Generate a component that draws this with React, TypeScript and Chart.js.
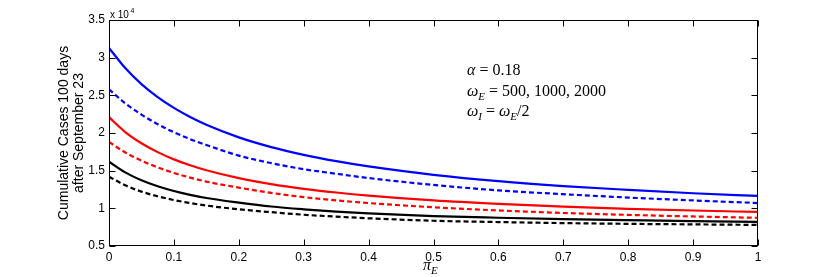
import React, { useEffect, useRef } from 'react';
import { Chart, registerables } from 'chart.js';

Chart.register(...registerables);

// pi_E values (x axis)
const piE = [0, 0.025, 0.05, 0.075, 0.1, 0.125, 0.15, 0.2, 0.25, 0.3, 0.35, 0.4, 0.5, 0.6, 0.7, 0.8, 0.9, 1.0];
// Cumulative cases (x 10^4)
const blueSolid = [3.13, 2.862, 2.649, 2.476, 2.333, 2.212, 2.109, 1.942, 1.813, 1.71, 1.626, 1.556, 1.445, 1.36, 1.295, 1.245, 1.2, 1.165];
const blueDashed = [2.58, 2.394, 2.243, 2.117, 2.01, 1.919, 1.841, 1.70, 1.60, 1.52, 1.459, 1.402, 1.311, 1.238, 1.188, 1.143, 1.105, 1.07];
const redSolid = [2.21, 2.013, 1.864, 1.746, 1.65, 1.571, 1.505, 1.401, 1.321, 1.259, 1.21, 1.169, 1.105, 1.059, 1.023, 0.994, 0.971, 0.952];
const redDashed = [1.88, 1.742, 1.633, 1.544, 1.47, 1.408, 1.355, 1.275, 1.205, 1.149, 1.106, 1.07, 1.014, 0.972, 0.939, 0.913, 0.892, 0.874];
const blackSolid = [1.62, 1.477, 1.373, 1.293, 1.23, 1.179, 1.137, 1.076, 1.024, 0.987, 0.957, 0.933, 0.897, 0.875, 0.857, 0.843, 0.831, 0.82];
const blackDashed = [1.42, 1.306, 1.222, 1.16, 1.11, 1.07, 1.037, 0.987, 0.949, 0.915, 0.89, 0.868, 0.835, 0.818, 0.804, 0.794, 0.787, 0.78];

const xTickLabels = ['0', '0.1', '0.2', '0.3', '0.4', '0.5', '0.6', '0.7', '0.8', '0.9', '1'];
const yTickLabels = ['0.5', '1', '1.5', '2', '2.5', '3', '3.5'];
const yTitle = ['Cumulative Cases 100 days', 'after September 23'];

const toPts = (ys: number[]) => ys.map((y, i) => ({ x: piE[i], y }));

type Seg = { t: string; it?: boolean; sub?: boolean };

const SERIF = '"Liberation Serif", "DejaVu Serif", serif';
const SANS = '"Liberation Sans", Arial, sans-serif';

function drawSegs(ctx: CanvasRenderingContext2D, segs: Seg[], x: number, y: number, size: number) {
  let cx = x;
  for (const s of segs) {
    const fs = s.sub ? Math.round(size * 0.7) : size;
    ctx.font = `${s.it ? 'italic ' : ''}${fs}px ${SERIF}`;
    ctx.fillText(s.t, cx, s.sub ? y + size * 0.25 : y);
    cx += ctx.measureText(s.t).width;
  }
}

const extrasPlugin = {
  id: 'extras',
  afterDraw(chart: any) {
    const ctx: CanvasRenderingContext2D = chart.ctx;
    const a = chart.chartArea;
    const xs = chart.scales.x;
    const ys = chart.scales.y;
    ctx.save();
    ctx.strokeStyle = '#000';
    ctx.lineWidth = 1;
    const L = Math.round(a.left) + 0.5;
    const R = Math.round(a.right) - 0.5;
    const T = Math.round(a.top) + 0.5;
    const B = Math.round(a.bottom) - 0.5;
    ctx.strokeRect(L, T, R - L, B - T);
    const tl = 6;
    ctx.beginPath();
    xs.ticks.forEach((t: any) => {
      const px = Math.round(xs.getPixelForValue(t.value)) + 0.5;
      ctx.moveTo(px, B); ctx.lineTo(px, B - tl);
      ctx.moveTo(px, T); ctx.lineTo(px, T + tl);
    });
    ys.ticks.forEach((t: any) => {
      const py = Math.round(ys.getPixelForValue(t.value)) + 0.5;
      ctx.moveTo(L, py); ctx.lineTo(L + tl, py);
      ctx.moveTo(R, py); ctx.lineTo(R - tl, py);
    });
    ctx.stroke();

    ctx.fillStyle = '#000';
    ctx.textBaseline = 'alphabetic';
    ctx.textAlign = 'left';
    // exponent label
    ctx.font = `10px ${SANS}`;
    ctx.fillText('x 10', a.left + 1, 17.5);
    const w = ctx.measureText('x 10').width;
    ctx.font = `7px ${SANS}`;
    ctx.fillText('4', a.left + 2.5 + w, 12.5);

    // x axis label pi_E
    drawSegs(ctx, [{ t: 'π', it: true }, { t: 'E', it: true, sub: true }], 423, 270, 16);

    // annotation
    drawSegs(ctx, [{ t: 'α', it: true }, { t: ' = 0.18' }], 467, 75, 16);
    drawSegs(ctx, [{ t: 'ω', it: true }, { t: 'E', it: true, sub: true }, { t: ' = 500, 1000, 2000' }], 467, 95.5, 16);
    drawSegs(ctx, [{ t: 'ω', it: true }, { t: 'I', it: true, sub: true }, { t: ' = ' }, { t: 'ω', it: true }, { t: 'E', it: true, sub: true }, { t: '/2' }], 467, 115.5, 16);
    ctx.restore();
  },
};

export default function App() {
  const ref = useRef<HTMLCanvasElement | null>(null);
  useEffect(() => {
    document.body.style.margin = '0';
    const canvas = ref.current;
    if (!canvas) return;
    const mk = (label: string, data: number[], color: string, dashed: boolean) => ({
      label,
      data: toPts(data),
      borderColor: color,
      backgroundColor: color,
      borderWidth: 2.2,
      borderDash: dashed ? [5, 3] : [],
      pointRadius: 0,
      fill: false,
      cubicInterpolationMode: 'monotone' as const,
    });
    const chart = new Chart(canvas, {
      type: 'line',
      data: {
        datasets: [
          mk('Blue solid', blueSolid, '#0000ff', false),
          mk('Blue dashed', blueDashed, '#0000ff', true),
          mk('Red solid', redSolid, '#ff0000', false),
          mk('Red dashed', redDashed, '#ff0000', true),
          mk('Black solid', blackSolid, '#000000', false),
          mk('Black dashed', blackDashed, '#000000', true),
        ],
      },
      options: {
        animation: false,
        responsive: false,
        events: [],
        layout: { padding: { top: 20, right: 79, left: 0, bottom: 0 } },
        plugins: { legend: { display: false }, tooltip: { enabled: false } },
        scales: {
          x: {
            type: 'linear',
            min: 0,
            max: 1,
            grid: { display: false, drawTicks: false },
            border: { display: false },
            ticks: {
              stepSize: 0.1,
              padding: 4,
              color: '#000',
              maxRotation: 0,
              font: { family: SANS, size: 12 },
              callback: (_v: any, i: number) => xTickLabels[i],
            },
            afterFit: (s: any) => { s.height = 31; },
          },
          y: {
            type: 'linear',
            min: 0.5,
            max: 3.5,
            grid: { display: false, drawTicks: false },
            border: { display: false },
            ticks: {
              stepSize: 0.5,
              padding: 4,
              color: '#000',
              font: { family: SANS, size: 12 },
              callback: (_v: any, i: number) => yTickLabels[i],
            },
            title: {
              display: true,
              text: yTitle,
              color: '#000',
              font: { family: SANS, size: 14, lineHeight: 1.07 },
              padding: { top: 57, bottom: 0 },
            },
            afterFit: (s: any) => { s.width = 109; },
          },
        },
      },
      plugins: [extrasPlugin],
    });
    return () => chart.destroy();
  }, []);
  return (
    <div style={{ width: 837, height: 277, background: '#fff' }}>
      <canvas ref={ref} width={837} height={277} style={{ display: 'block' }} />
    </div>
  );
}
